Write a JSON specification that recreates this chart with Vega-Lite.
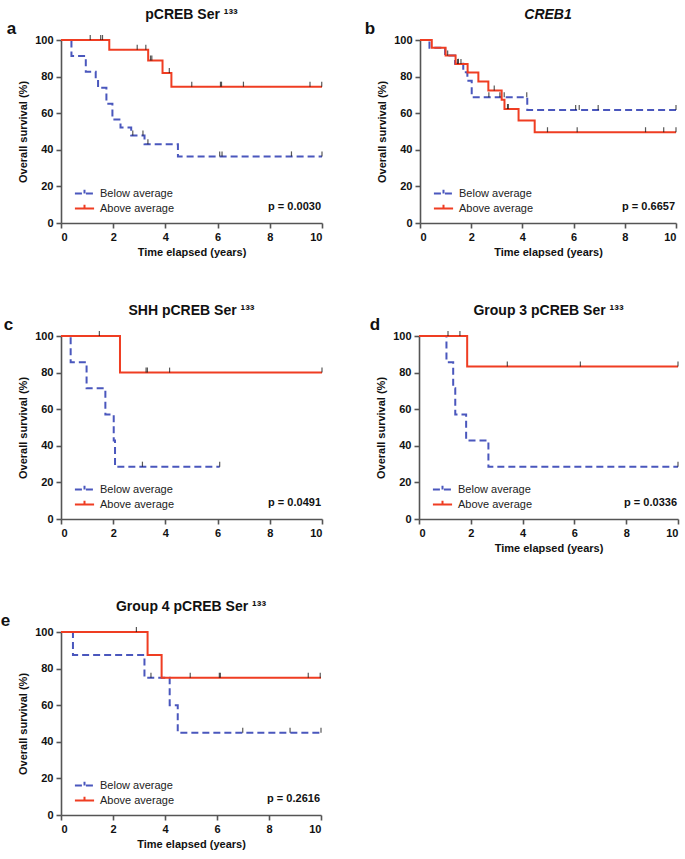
{
  "$schema": "https://vega.github.io/schema/vega-lite/v6.json",
  "padding": {"left": 0, "top": 8, "right": 4, "bottom": 4},
  "background": "white",
  "config": {
    "font": "Liberation Sans",
    "view": {"stroke": null},
    "axis": {"labelFont": "Liberation Sans", "labelFontWeight": "bold", "labelFontSize": 11, "labelColor": "#111", "titleFont": "Liberation Sans", "titleFontWeight": "bold", "titleFontSize": 11, "titleColor": "#111", "domainColor": "#555", "domainWidth": 1.6, "tickColor": "#555", "tickWidth": 1.6, "tickSize": 5, "grid": false, "labelPadding": 3, "labelOverlap": false, "tickCount": 6},
    "axisY": {"titlePadding": 6},
    "title": {"font": "Liberation Sans", "fontSize": 14, "fontWeight": "bold", "color": "#111", "offset": 12},
    "legend": {"symbolType": "M-1.75,0H1.75M0,0V-0.7", "symbolSize": 120, "symbolStrokeWidth": 2, "labelFont": "Liberation Sans", "labelFontSize": 11, "labelColor": "#222", "rowPadding": 1, "labelOffset": 9, "padding": 0}
  },
  "datasets": {
    "km": [
      {"p":"a","g":"Below average","t":0,"s":100},{"p":"a","g":"Below average","t":0.40,"s":91.3},{"p":"a","g":"Below average","t":0.95,"s":82.6},{"p":"a","g":"Below average","t":1.33,"s":78.3},{"p":"a","g":"Below average","t":1.42,"s":73.9},{"p":"a","g":"Below average","t":1.74,"s":65.2},{"p":"a","g":"Below average","t":1.97,"s":56.5},{"p":"a","g":"Below average","t":2.28,"s":52.2},{"p":"a","g":"Below average","t":2.69,"s":47.8},{"p":"a","g":"Below average","t":3.20,"s":43.0},{"p":"a","g":"Below average","t":4.48,"s":36.4},{"p":"a","g":"Below average","t":10,"s":36.4},
      {"p":"a","g":"Above average","t":0,"s":100},{"p":"a","g":"Above average","t":1.85,"s":94.7},{"p":"a","g":"Above average","t":3.34,"s":88.8},{"p":"a","g":"Above average","t":3.89,"s":82.0},{"p":"a","g":"Above average","t":4.23,"s":74.5},{"p":"a","g":"Above average","t":10,"s":74.5},
      {"p":"b","g":"Below average","t":0,"s":100},{"p":"b","g":"Below average","t":0.37,"s":95.8},{"p":"b","g":"Below average","t":0.98,"s":91.5},{"p":"b","g":"Below average","t":1.37,"s":87.0},{"p":"b","g":"Below average","t":1.69,"s":82.4},{"p":"b","g":"Below average","t":1.85,"s":77.8},{"p":"b","g":"Below average","t":2.02,"s":68.7},{"p":"b","g":"Below average","t":4.19,"s":61.8},{"p":"b","g":"Below average","t":10,"s":61.8},
      {"p":"b","g":"Above average","t":0,"s":100},{"p":"b","g":"Above average","t":0.46,"s":95.8},{"p":"b","g":"Above average","t":1.0,"s":91.5},{"p":"b","g":"Above average","t":1.39,"s":86.9},{"p":"b","g":"Above average","t":1.86,"s":82.3},{"p":"b","g":"Above average","t":2.28,"s":77.3},{"p":"b","g":"Above average","t":2.67,"s":72.4},{"p":"b","g":"Above average","t":3.19,"s":67.3},{"p":"b","g":"Above average","t":3.30,"s":62.3},{"p":"b","g":"Above average","t":3.85,"s":56.0},{"p":"b","g":"Above average","t":4.48,"s":49.6},{"p":"b","g":"Above average","t":10,"s":49.6},
      {"p":"c","g":"Below average","t":0,"s":100},{"p":"c","g":"Below average","t":0.37,"s":85.7},{"p":"c","g":"Below average","t":0.98,"s":71.4},{"p":"c","g":"Below average","t":1.70,"s":57.1},{"p":"c","g":"Below average","t":2.02,"s":42.9},{"p":"c","g":"Below average","t":2.07,"s":28.6},{"p":"c","g":"Below average","t":6.08,"s":28.6},
      {"p":"c","g":"Above average","t":0,"s":100},{"p":"c","g":"Above average","t":2.26,"s":80},{"p":"c","g":"Above average","t":10,"s":80},
      {"p":"d","g":"Below average","t":0,"s":100},{"p":"d","g":"Below average","t":1.06,"s":85.7},{"p":"d","g":"Below average","t":1.32,"s":71.4},{"p":"d","g":"Below average","t":1.40,"s":57.1},{"p":"d","g":"Below average","t":1.82,"s":42.9},{"p":"d","g":"Below average","t":2.68,"s":28.6},{"p":"d","g":"Below average","t":10,"s":28.6},
      {"p":"d","g":"Above average","t":0,"s":100},{"p":"d","g":"Above average","t":1.86,"s":83.3},{"p":"d","g":"Above average","t":10,"s":83.3},
      {"p":"e","g":"Below average","t":0,"s":100},{"p":"e","g":"Below average","t":0.46,"s":87.5},{"p":"e","g":"Below average","t":3.21,"s":75},{"p":"e","g":"Below average","t":4.18,"s":60},{"p":"e","g":"Below average","t":4.49,"s":45},{"p":"e","g":"Below average","t":10,"s":45},
      {"p":"e","g":"Above average","t":0,"s":100},{"p":"e","g":"Above average","t":3.33,"s":87.5},{"p":"e","g":"Above average","t":3.87,"s":75},{"p":"e","g":"Above average","t":10,"s":75}
    ],
    "cens": [
      {"p":"a","t":2.75,"s":47.8},{"p":"a","t":3.14,"s":47.8},{"p":"a","t":3.33,"s":43.0},{"p":"a","t":6.08,"s":36.4},{"p":"a","t":6.17,"s":36.4},{"p":"a","t":8.83,"s":36.4},{"p":"a","t":10,"s":36.4},
      {"p":"a","t":1.12,"s":100},{"p":"a","t":1.52,"s":100},{"p":"a","t":1.59,"s":100},{"p":"a","t":2.92,"s":94.7},{"p":"a","t":3.25,"s":94.7},{"p":"a","t":3.43,"s":88.8},{"p":"a","t":3.48,"s":88.8},{"p":"a","t":4.15,"s":82.0},{"p":"a","t":5.01,"s":74.5},{"p":"a","t":6.11,"s":74.5},{"p":"a","t":6.15,"s":74.5},{"p":"a","t":6.99,"s":74.5},{"p":"a","t":9.54,"s":74.5},{"p":"a","t":9.99,"s":74.5},
      {"p":"b","t":1.50,"s":87.0},{"p":"b","t":2.69,"s":68.7},{"p":"b","t":3.12,"s":68.7},{"p":"b","t":3.29,"s":68.7},{"p":"b","t":4.17,"s":68.7},{"p":"b","t":6.08,"s":61.8},{"p":"b","t":6.22,"s":61.8},{"p":"b","t":6.96,"s":61.8},{"p":"b","t":10,"s":61.8},
      {"p":"b","t":1.08,"s":91.5},{"p":"b","t":1.47,"s":86.9},{"p":"b","t":1.60,"s":86.9},{"p":"b","t":2.90,"s":72.4},{"p":"b","t":3.42,"s":62.3},{"p":"b","t":3.45,"s":62.3},{"p":"b","t":4.98,"s":49.6},{"p":"b","t":6.14,"s":49.6},{"p":"b","t":8.81,"s":49.6},{"p":"b","t":9.52,"s":49.6},{"p":"b","t":10,"s":49.6},
      {"p":"c","t":3.12,"s":28.6},{"p":"c","t":6.08,"s":28.6},
      {"p":"c","t":1.47,"s":100},{"p":"c","t":3.26,"s":80},{"p":"c","t":3.31,"s":80},{"p":"c","t":4.16,"s":80},{"p":"c","t":10,"s":80},
      {"p":"d","t":10,"s":28.6},
      {"p":"d","t":1.12,"s":100},{"p":"d","t":1.58,"s":100},{"p":"d","t":3.41,"s":83.3},{"p":"d","t":6.23,"s":83.3},{"p":"d","t":10,"s":83.3},
      {"p":"e","t":3.46,"s":75},{"p":"e","t":6.99,"s":45},{"p":"e","t":8.81,"s":45},{"p":"e","t":10,"s":45},
      {"p":"e","t":2.9,"s":100},{"p":"e","t":4.97,"s":75},{"p":"e","t":6.09,"s":75},{"p":"e","t":6.13,"s":75},{"p":"e","t":9.51,"s":75},{"p":"e","t":9.97,"s":75}
    ]
  },
  "resolve": {"scale": {"color": "independent", "strokeDash": "independent", "x": "independent", "y": "independent"}, "legend": {"color": "independent", "strokeDash": "independent"}},
  "spacing": 47,
  "vconcat": [
    {
      "spacing": 38,
      "resolve": {"scale": {"color": "independent", "strokeDash": "independent", "x": "independent", "y": "independent"}, "legend": {"color": "independent", "strokeDash": "independent"}},
      "hconcat": [
        {
          "title": {"text": "a", "anchor": "start", "fontSize": 17, "offset": 0, "dx": -11, "dy": 30},
          "resolve": {"scale": {"color": "independent", "strokeDash": "independent"}, "legend": {"color": "independent", "strokeDash": "independent"}},
          "vconcat": [{
            "title": {"text": "pCREB Ser ¹³³"},
            "width": 261, "height": 183,
            "layer": [
              {"data": {"name": "km"}, "transform": [{"filter": "datum.p === 'a'"}],
               "mark": {"type": "line", "interpolate": "step-after", "strokeWidth": 2},
               "encoding": {
                 "x": {"field": "t", "type": "quantitative", "scale": {"domain": [0, 10], "nice": false}, "axis": {"values": [0, 2, 4, 6, 8, 10], "title": "Time elapsed (years)"}},
                 "y": {"field": "s", "type": "quantitative", "scale": {"domain": [0, 100], "nice": false}, "axis": {"values": [0, 20, 40, 60, 80, 100], "title": "Overall survival (%)"}},
                 "color": {"field": "g", "type": "nominal", "scale": {"domain": ["Below average", "Above average"], "range": ["#4a57bd", "#ef3d22"]}, "legend": {"title": null, "orient": "none", "legendX": 17, "legendY": 147}},
                 "strokeDash": {"field": "g", "type": "nominal", "scale": {"domain": ["Below average", "Above average"], "range": [[7, 4], [1, 0]]}, "legend": {"title": null, "orient": "none", "legendX": 17, "legendY": 147}}
               }},
              {"data": {"name": "cens"}, "transform": [{"filter": "datum.p === 'a'"}],
               "mark": {"type": "tick", "orient": "vertical", "color": "#111", "size": 5, "thickness": 1.2, "yOffset": -2.5},
               "encoding": {
                 "x": {"field": "t", "type": "quantitative", "axis": {"values": [0, 2, 4, 6, 8, 10], "title": "Time elapsed (years)"}},
                 "y": {"field": "s", "type": "quantitative", "axis": {"values": [0, 20, 40, 60, 80, 100], "title": "Overall survival (%)"}}}},
              {"data": {"values": [{"lab": "p = 0.0030"}]},
               "mark": {"type": "text", "align": "right", "baseline": "middle", "fontWeight": "bold", "fontSize": 11, "dx": -1, "color": "#111"},
               "encoding": {
                 "x": {"datum": 10, "type": "quantitative", "axis": {"values": [0, 2, 4, 6, 8, 10], "title": "Time elapsed (years)"}},
                 "y": {"datum": 9, "type": "quantitative", "axis": {"values": [0, 20, 40, 60, 80, 100], "title": "Overall survival (%)"}},
                 "text": {"field": "lab"}}}
            ]
          }]
        },
        {
          "title": {"text": "b", "anchor": "start", "fontSize": 17, "offset": 0, "dx": -12, "dy": 30},
          "resolve": {"scale": {"color": "independent", "strokeDash": "independent"}, "legend": {"color": "independent", "strokeDash": "independent"}},
          "vconcat": [{
            "title": {"text": "CREB1", "fontStyle": "italic"},
            "width": 256, "height": 183,
            "layer": [
              {"data": {"name": "km"}, "transform": [{"filter": "datum.p === 'b'"}],
               "mark": {"type": "line", "interpolate": "step-after", "strokeWidth": 2},
               "encoding": {
                 "x": {"field": "t", "type": "quantitative", "scale": {"domain": [0, 10], "nice": false}, "axis": {"values": [0, 2, 4, 6, 8, 10], "title": "Time elapsed (years)"}},
                 "y": {"field": "s", "type": "quantitative", "scale": {"domain": [0, 100], "nice": false}, "axis": {"values": [0, 20, 40, 60, 80, 100], "title": "Overall survival (%)"}},
                 "color": {"field": "g", "type": "nominal", "scale": {"domain": ["Below average", "Above average"], "range": ["#4a57bd", "#ef3d22"]}, "legend": {"title": null, "orient": "none", "legendX": 17, "legendY": 147}},
                 "strokeDash": {"field": "g", "type": "nominal", "scale": {"domain": ["Below average", "Above average"], "range": [[7, 4], [1, 0]]}, "legend": {"title": null, "orient": "none", "legendX": 17, "legendY": 147}}
               }},
              {"data": {"name": "cens"}, "transform": [{"filter": "datum.p === 'b'"}],
               "mark": {"type": "tick", "orient": "vertical", "color": "#111", "size": 5, "thickness": 1.2, "yOffset": -2.5},
               "encoding": {
                 "x": {"field": "t", "type": "quantitative", "axis": {"values": [0, 2, 4, 6, 8, 10], "title": "Time elapsed (years)"}},
                 "y": {"field": "s", "type": "quantitative", "axis": {"values": [0, 20, 40, 60, 80, 100], "title": "Overall survival (%)"}}}},
              {"data": {"values": [{"lab": "p = 0.6657"}]},
               "mark": {"type": "text", "align": "right", "baseline": "middle", "fontWeight": "bold", "fontSize": 11, "dx": -1, "color": "#111"},
               "encoding": {
                 "x": {"datum": 10, "type": "quantitative", "axis": {"values": [0, 2, 4, 6, 8, 10], "title": "Time elapsed (years)"}},
                 "y": {"datum": 9, "type": "quantitative", "axis": {"values": [0, 20, 40, 60, 80, 100], "title": "Overall survival (%)"}},
                 "text": {"field": "lab"}}}
            ]
          }]
        }
      ]
    },
    {
      "spacing": 43,
      "resolve": {"scale": {"color": "independent", "strokeDash": "independent", "x": "independent", "y": "independent"}, "legend": {"color": "independent", "strokeDash": "independent"}},
      "hconcat": [
        {
          "title": {"text": "c", "anchor": "start", "fontSize": 17, "offset": 0, "dx": -14, "dy": 30},
          "resolve": {"scale": {"color": "independent", "strokeDash": "independent"}, "legend": {"color": "independent", "strokeDash": "independent"}},
          "vconcat": [{
            "title": {"text": "SHH pCREB Ser ¹³³"},
            "width": 261, "height": 183,
            "layer": [
              {"data": {"name": "km"}, "transform": [{"filter": "datum.p === 'c'"}],
               "mark": {"type": "line", "interpolate": "step-after", "strokeWidth": 2},
               "encoding": {
                 "x": {"field": "t", "type": "quantitative", "scale": {"domain": [0, 10], "nice": false}, "axis": {"values": [0, 2, 4, 6, 8, 10], "title": null}},
                 "y": {"field": "s", "type": "quantitative", "scale": {"domain": [0, 100], "nice": false}, "axis": {"values": [0, 20, 40, 60, 80, 100], "title": "Overall survival (%)"}},
                 "color": {"field": "g", "type": "nominal", "scale": {"domain": ["Below average", "Above average"], "range": ["#4a57bd", "#ef3d22"]}, "legend": {"title": null, "orient": "none", "legendX": 17, "legendY": 147}},
                 "strokeDash": {"field": "g", "type": "nominal", "scale": {"domain": ["Below average", "Above average"], "range": [[7, 4], [1, 0]]}, "legend": {"title": null, "orient": "none", "legendX": 17, "legendY": 147}}
               }},
              {"data": {"name": "cens"}, "transform": [{"filter": "datum.p === 'c'"}],
               "mark": {"type": "tick", "orient": "vertical", "color": "#111", "size": 5, "thickness": 1.2, "yOffset": -2.5},
               "encoding": {
                 "x": {"field": "t", "type": "quantitative", "axis": {"values": [0, 2, 4, 6, 8, 10], "title": null}},
                 "y": {"field": "s", "type": "quantitative", "axis": {"values": [0, 20, 40, 60, 80, 100], "title": "Overall survival (%)"}}}},
              {"data": {"values": [{"lab": "p = 0.0491"}]},
               "mark": {"type": "text", "align": "right", "baseline": "middle", "fontWeight": "bold", "fontSize": 11, "dx": -1, "color": "#111"},
               "encoding": {
                 "x": {"datum": 10, "type": "quantitative", "axis": {"values": [0, 2, 4, 6, 8, 10], "title": null}},
                 "y": {"datum": 9, "type": "quantitative", "axis": {"values": [0, 20, 40, 60, 80, 100], "title": "Overall survival (%)"}},
                 "text": {"field": "lab"}}}
            ]
          }]
        },
        {
          "title": {"text": "d", "anchor": "start", "fontSize": 17, "offset": 0, "dx": -6, "dy": 30},
          "resolve": {"scale": {"color": "independent", "strokeDash": "independent"}, "legend": {"color": "independent", "strokeDash": "independent"}},
          "vconcat": [{
            "title": {"text": "Group 3 pCREB Ser ¹³³"},
            "width": 259, "height": 183,
            "layer": [
              {"data": {"name": "km"}, "transform": [{"filter": "datum.p === 'd'"}],
               "mark": {"type": "line", "interpolate": "step-after", "strokeWidth": 2},
               "encoding": {
                 "x": {"field": "t", "type": "quantitative", "scale": {"domain": [0, 10], "nice": false}, "axis": {"values": [0, 2, 4, 6, 8, 10], "title": "Time elapsed (years)"}},
                 "y": {"field": "s", "type": "quantitative", "scale": {"domain": [0, 100], "nice": false}, "axis": {"values": [0, 20, 40, 60, 80, 100], "title": "Overall survival (%)"}},
                 "color": {"field": "g", "type": "nominal", "scale": {"domain": ["Below average", "Above average"], "range": ["#4a57bd", "#ef3d22"]}, "legend": {"title": null, "orient": "none", "legendX": 17, "legendY": 147}},
                 "strokeDash": {"field": "g", "type": "nominal", "scale": {"domain": ["Below average", "Above average"], "range": [[7, 4], [1, 0]]}, "legend": {"title": null, "orient": "none", "legendX": 17, "legendY": 147}}
               }},
              {"data": {"name": "cens"}, "transform": [{"filter": "datum.p === 'd'"}],
               "mark": {"type": "tick", "orient": "vertical", "color": "#111", "size": 5, "thickness": 1.2, "yOffset": -2.5},
               "encoding": {
                 "x": {"field": "t", "type": "quantitative", "axis": {"values": [0, 2, 4, 6, 8, 10], "title": "Time elapsed (years)"}},
                 "y": {"field": "s", "type": "quantitative", "axis": {"values": [0, 20, 40, 60, 80, 100], "title": "Overall survival (%)"}}}},
              {"data": {"values": [{"lab": "p = 0.0336"}]},
               "mark": {"type": "text", "align": "right", "baseline": "middle", "fontWeight": "bold", "fontSize": 11, "dx": -1, "color": "#111"},
               "encoding": {
                 "x": {"datum": 10, "type": "quantitative", "axis": {"values": [0, 2, 4, 6, 8, 10], "title": "Time elapsed (years)"}},
                 "y": {"datum": 9, "type": "quantitative", "axis": {"values": [0, 20, 40, 60, 80, 100], "title": "Overall survival (%)"}},
                 "text": {"field": "lab"}}}
            ]
          }]
        }
      ]
    },
    {
      "resolve": {"scale": {"color": "independent", "strokeDash": "independent", "x": "independent", "y": "independent"}, "legend": {"color": "independent", "strokeDash": "independent"}},
      "hconcat": [
        {
          "title": {"text": "e", "anchor": "start", "fontSize": 17, "offset": 0, "dx": -17, "dy": 30},
          "resolve": {"scale": {"color": "independent", "strokeDash": "independent"}, "legend": {"color": "independent", "strokeDash": "independent"}},
          "vconcat": [{
            "title": {"text": "Group 4 pCREB Ser ¹³³"},
            "width": 260, "height": 183,
            "layer": [
              {"data": {"name": "km"}, "transform": [{"filter": "datum.p === 'e'"}],
               "mark": {"type": "line", "interpolate": "step-after", "strokeWidth": 2},
               "encoding": {
                 "x": {"field": "t", "type": "quantitative", "scale": {"domain": [0, 10], "nice": false}, "axis": {"values": [0, 2, 4, 6, 8, 10], "title": "Time elapsed (years)"}},
                 "y": {"field": "s", "type": "quantitative", "scale": {"domain": [0, 100], "nice": false}, "axis": {"values": [0, 20, 40, 60, 80, 100], "title": "Overall survival (%)"}},
                 "color": {"field": "g", "type": "nominal", "scale": {"domain": ["Below average", "Above average"], "range": ["#4a57bd", "#ef3d22"]}, "legend": {"title": null, "orient": "none", "legendX": 17, "legendY": 147}},
                 "strokeDash": {"field": "g", "type": "nominal", "scale": {"domain": ["Below average", "Above average"], "range": [[7, 4], [1, 0]]}, "legend": {"title": null, "orient": "none", "legendX": 17, "legendY": 147}}
               }},
              {"data": {"name": "cens"}, "transform": [{"filter": "datum.p === 'e'"}],
               "mark": {"type": "tick", "orient": "vertical", "color": "#111", "size": 5, "thickness": 1.2, "yOffset": -2.5},
               "encoding": {
                 "x": {"field": "t", "type": "quantitative", "axis": {"values": [0, 2, 4, 6, 8, 10], "title": "Time elapsed (years)"}},
                 "y": {"field": "s", "type": "quantitative", "axis": {"values": [0, 20, 40, 60, 80, 100], "title": "Overall survival (%)"}}}},
              {"data": {"values": [{"lab": "p = 0.2616"}]},
               "mark": {"type": "text", "align": "right", "baseline": "middle", "fontWeight": "bold", "fontSize": 11, "dx": -1, "color": "#111"},
               "encoding": {
                 "x": {"datum": 10, "type": "quantitative", "axis": {"values": [0, 2, 4, 6, 8, 10], "title": "Time elapsed (years)"}},
                 "y": {"datum": 9, "type": "quantitative", "axis": {"values": [0, 20, 40, 60, 80, 100], "title": "Overall survival (%)"}},
                 "text": {"field": "lab"}}}
            ]
          }]
        }
      ]
    }
  ]
}
